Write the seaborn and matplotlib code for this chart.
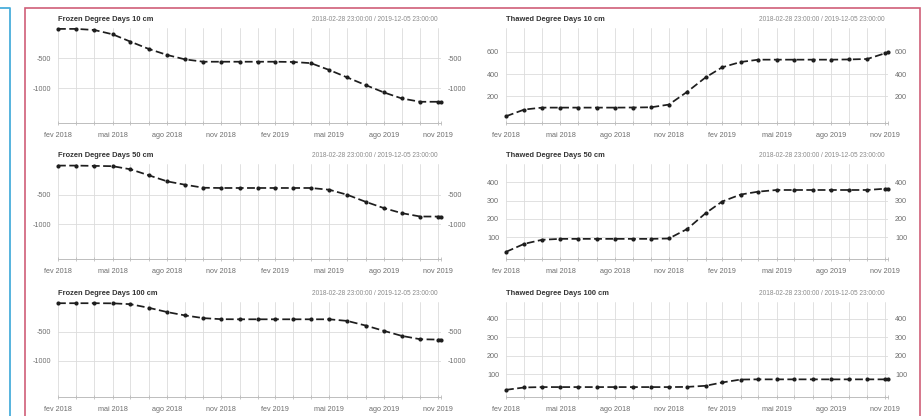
import matplotlib
matplotlib.use("Agg")
import matplotlib.pyplot as plt
from matplotlib.patches import Rectangle
from matplotlib.lines import Line2D
import seaborn as sns
import pandas as pd

# ---------------- data ----------------
dates = ["2018-02-28", "2018-03-31", "2018-04-30", "2018-05-31", "2018-06-30",
         "2018-07-31", "2018-08-31", "2018-09-30", "2018-10-31", "2018-11-30",
         "2018-12-31", "2019-01-31", "2019-02-28", "2019-03-31", "2019-04-30",
         "2019-05-31", "2019-06-30", "2019-07-31", "2019-08-31", "2019-09-30",
         "2019-10-31", "2019-11-30", "2019-12-05"]

frozen_10 = [-10, -10, -28, -100, -222, -344, -444, -517, -556, -556, -556, -556,
             -556, -560, -580, -694, -817, -944, -1067, -1167, -1222, -1222, -1225]
thawed_10 = [24, 84, 101, 101, 101, 101, 101, 102, 104, 128, 242, 370, 460, 507,
             528, 528, 528, 528, 528, 530, 534, 585, 594]
frozen_50 = [-5, -5, -10, -15, -68, -170, -273, -330, -381, -385, -385, -385,
             -385, -385, -385, -415, -500, -619, -727, -812, -869, -870, -872]
thawed_50 = [20, 64, 86, 91, 91, 91, 91, 91, 91, 93, 145, 231, 295, 333, 349,
             358, 358, 358, 358, 358, 358, 365, 365]
frozen_100 = [-3, -3, -3, -5, -20, -83, -157, -215, -262, -280, -282, -282, -282,
              -282, -282, -282, -310, -390, -483, -570, -628, -634, -634]
thawed_100 = [14, 27, 29, 29, 29, 29, 29, 29, 29, 29, 30, 36, 54, 70, 71, 71,
              71, 71, 71, 71, 71, 71, 71]

titles = ["Frozen Degree Days 10 cm", "Thawed Degree Days 10 cm",
          "Frozen Degree Days 50 cm", "Thawed Degree Days 50 cm",
          "Frozen Degree Days 100 cm", "Thawed Degree Days 100 cm"]
period_label = "2018-02-28 23:00:00 / 2019-12-05 23:00:00"

month_labels = ["fev 2018", "", "", "mai 2018", "", "", "ago 2018", "", "",
                "nov 2018", "", "", "fev 2019", "", "", "mai 2019", "", "",
                "ago 2019", "", "", "nov 2019", ""]

frozen_ticks = [-1000, -500]
thawed10_ticks = [200, 400, 600]
thawed_ticks = [100, 200, 300, 400]

series = [frozen_10, thawed_10, frozen_50, thawed_50, frozen_100, thawed_100]
yticks = [frozen_ticks, thawed10_ticks, frozen_ticks, thawed_ticks,
          frozen_ticks, thawed_ticks]
ylims = [(-1575, 5), (-36, 810), (-1590, 22), (-19, 500), (-1630, 18), (-25, 492)]

# ---------------- style ----------------
sns.set_theme(style="white")
plt.rcParams["font.family"] = ["Liberation Sans", "DejaVu Sans"]
plt.rcParams["axes.unicode_minus"] = False

W, H = 924, 416
fig = plt.figure(figsize=(W / 100, H / 100), dpi=100)
fig.patch.set_facecolor("white")

# panel geometry (pixels)
col_x = [(58, 441), (506, 888)]
row_y = [(28, 123), (164, 259), (302, 397)]

x = pd.to_datetime(dates)

for i, vals in enumerate(series):
    r, c = divmod(i, 2)
    x0, x1 = col_x[c]
    yt, yb = row_y[r]
    ax = fig.add_axes([x0 / W, 1 - yb / H, (x1 - x0) / W, (yb - yt) / H])
    ax.set_facecolor("white")
    df = pd.DataFrame({"date": x, "value": vals})
    sns.lineplot(data=df, x="date", y="value", ax=ax, color="#1e1e1e",
                 marker="o", markersize=3.0, markeredgewidth=0,
                 linewidth=1.25, linestyle="--", clip_on=False, zorder=5)
    for ln in ax.get_lines():
        ln.set_dashes((4.5, 2.0))
    ax.set_xlim(x[0], x[-1])
    ax.set_ylim(*ylims[i])
    ax.set_xticks(x)
    ax.set_xticklabels(month_labels)
    ax.set_yticks(yticks[i])
    ax.set_xlabel("")
    ax.set_ylabel("")
    ax.grid(True, color="#dcdcdc", linewidth=0.6)
    ax.set_axisbelow(True)
    for s in ["top", "left", "right"]:
        ax.spines[s].set_visible(False)
    ax.spines["bottom"].set_color("#bdbdbd")
    ax.spines["bottom"].set_linewidth(0.7)
    ax.tick_params(axis="x", bottom=True, length=2.5, width=0.6, color="#bdbdbd",
                   labelsize=5.2, labelcolor="#6e6e6e", pad=5, direction="inout")
    ax.tick_params(axis="y", left=False, right=False, length=0, labelleft=True,
                   labelright=True, labelsize=5.2, labelcolor="#6e6e6e", pad=5)
    ax.text(0.0, 1.085, titles[i], transform=ax.transAxes, ha="left",
            va="center", fontsize=5.4, fontweight="bold", color="#333333")
    ax.text(0.99, 1.085, period_label, transform=ax.transAxes, ha="right",
            va="center", fontsize=4.7, color="#8a8a8a")

# page frame lines
fig.add_artist(Line2D([0, 10 / W, 10 / W], [1 - 8 / H, 1 - 8 / H, -0.01],
                      transform=fig.transFigure, color="#49aedb", linewidth=1.3))
fig.add_artist(Rectangle((25 / W, -0.05), (920 - 25) / W, 1 - 8 / H + 0.05,
                         transform=fig.transFigure, fill=False,
                         edgecolor="#cf5f78", linewidth=1.2))

fig.savefig("out.png", dpi=100, facecolor="white")
